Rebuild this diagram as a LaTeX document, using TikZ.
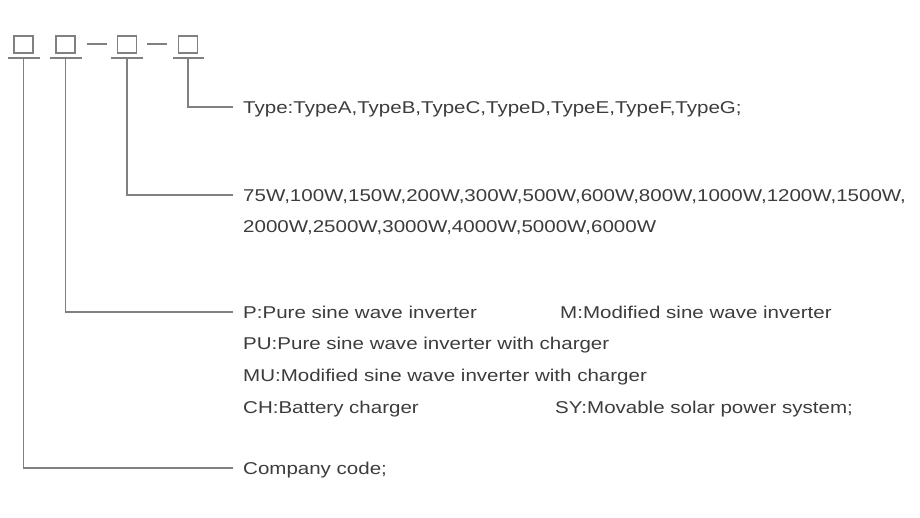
\documentclass[tikz,border=0pt]{standalone}
\usepackage{fontspec}
\setmainfont{Liberation Sans}[FakeStretch=1.2]
\definecolor{linegray}{RGB}{128,128,128}
\definecolor{textgray}{RGB}{60,60,60}
\begin{document}
\begin{tikzpicture}[x=1pt,y=-1pt,
    digit/.style={draw=linegray,line width=1.2pt,minimum width=19pt,minimum height=17pt,inner sep=0pt},
    lead/.style={draw=linegray,line width=1.2pt},
    txt/.style={anchor=west,inner xsep=10pt,inner ysep=0pt,text=textgray,
      font=\fontsize{17.1}{20}\selectfont,text height=12.2pt,text depth=0pt}]
        \useasboundingbox (0,0) rectangle (920,518);
        % code boxes
        \node [digit] (b1) at (23.5,44.5) {};
        \node [digit] (b2) at (65.5,44.5) {};
        \node [digit] (b3) at (127,44.5) {};
        \node [digit] (b4) at (188,44.5) {};
        \draw [lead] (87,44) to (107,44);
        \draw [lead] (147,44) to (167,44);
        \draw [lead] (8,58) to (40,58);
        \draw [lead] (50,58) to (82,58);
        \draw [lead] (111,58) to (143,58);
        \draw [lead] (173,58) to (204,58);
        \coordinate (u1) at (23.5,58);
        \coordinate (u2) at (65.5,58);
        \coordinate (u3) at (127,58);
        \coordinate (u4) at (188,58);
        % texts
        \node [txt] (type) at (233,107) {Type:TypeA,TypeB,TypeC,TypeD,TypeE,TypeF,TypeG;};
        \node [txt] (wa) at (233,195) {75W,100W,150W,200W,300W,500W,600W,800W,1000W,1200W,1500W,};
        \node [txt] (wb) at (233,226) {2000W,2500W,3000W,4000W,5000W,6000W};
        \node [txt] (p) at (233,312) {P:Pure sine wave inverter};
        \node [txt] (m) at (550,312) {M:Modified sine wave inverter};
        \node [txt] (pu) at (233,343) {PU:Pure sine wave inverter with charger};
        \node [txt] (mu) at (233,375) {MU:Modified sine wave inverter with charger};
        \node [txt] (ch) at (233,407) {CH:Battery charger};
        \node [txt] (sy) at (545,407) {SY:Movable solar power system;};
        \node [txt] (company) at (233,468) {Company code;};
        % leaders
        \draw [lead] (u4) |- (type.west);
        \draw [lead] (u3) |- (wa.west);
        \draw [lead] (u2) |- (p.west);
        \draw [lead] (u1) |- (company.west);
      \end{tikzpicture}
\end{document}
